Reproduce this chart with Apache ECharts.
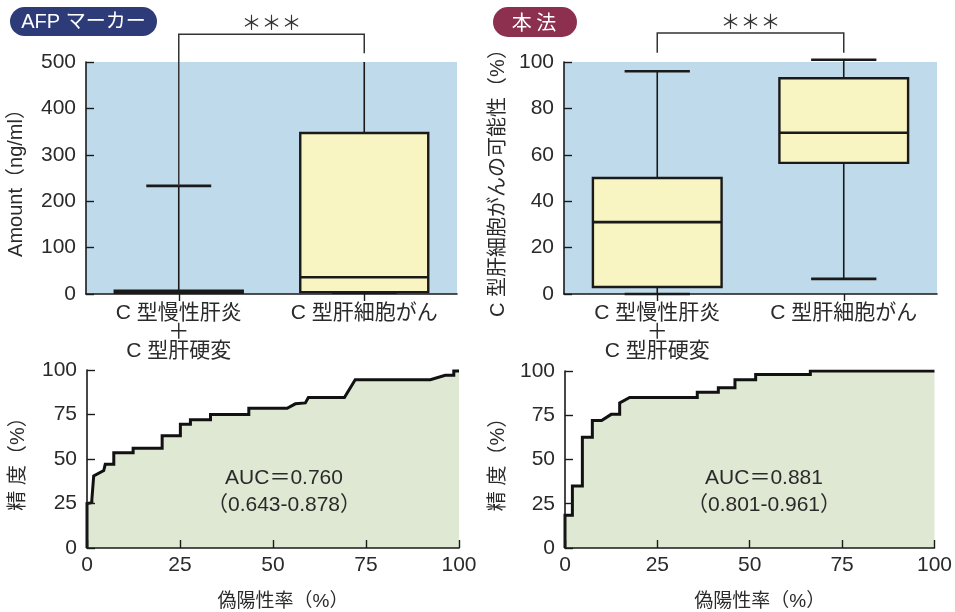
<!DOCTYPE html>
<html><head><meta charset="utf-8">
<script src="https://cdn.jsdelivr.net/npm/echarts@6/dist/echarts.min.js"></script>
<style>html,body{margin:0;padding:0;background:#fff}#c{width:955px;height:612px}</style>
</head><body><div id="c"></div>
<script>
const FONT = "'Liberation Sans','Noto Sans CJK JP',sans-serif";
const CJK = "'Noto Sans CJK JP','Liberation Sans',sans-serif";

// Box plot categories
const boxCategories = ['C 型慢性肝炎\n＋\nC 型肝硬変', 'C 型肝細胞がん'];
// [min, Q1, median, Q3, max]
const afpBox = [[0, 2, 4, 7, 233], [0, 4, 36, 347, 540]];
const methodBox = [[0, 3, 31, 50, 96], [6.5, 56.5, 69.5, 93, 101]];
// bracket: [left leg end, right leg end, bracket top] (data units)
const afpBracket = [233, 519, 560];
const methodBracket = [104, 104, 112.5];
const afpYTicks = {min: 0, max: 500, interval: 100};
const methodYTicks = {min: 0, max: 100, interval: 20};
const rocTicks = {min: 0, max: 100, interval: 25};

// ROC curves: [false positive rate %, sensitivity %]
const rocAfp = [[0,0],[0,25],[1.3,25.5],[1.3,27],[1.8,27],[1.8,40.5],[4.5,43.5],[4.9,43.5],[4.9,47],[7.2,47],[7.2,53.5],[12.4,53.5],[12.4,56],[20.2,56],[20.2,63],[25.1,63],[25.1,69.5],[27.8,69.5],[27.8,72],[33.2,72],[33.2,75],[43.5,75],[43.5,78.5],[53.8,78.5],[56,81],[58.7,81.5],[59.5,84.5],[69.2,84.5],[72.1,94.5],[92.3,94.5],[96.3,97],[98.6,97],[98.6,99.5],[100,99.5]];
const rocMethod = [[0,0],[0,18.5],[2,18.5],[2,35],[4.7,35],[4.7,62.5],[7.4,62.5],[7.4,72],[9.9,72],[12.5,75.5],[14.8,75.5],[14.8,82],[17.5,85],[35.8,85],[35.8,88],[41.5,88],[41.5,90.5],[46,90.5],[46,95],[51.6,95],[51.6,98],[66.4,98],[66.4,100],[100,100]];
const aucAfp = ['AUC＝0.760', '（0.643-0.878）'];
const aucMethod = ['AUC＝0.881', '（0.801-0.961）'];

const INK = '#1a1a1a';
const TXT = '#2a2a2a';

function boxRender(params, api) {
  const idx = api.value(0);
  const mn = api.value(1), q1 = api.value(2), md = api.value(3), q3 = api.value(4), mx = api.value(5);
  const band = api.size([1, 0])[0];
  const bw = band * 0.69, cw = band * 0.35;
  const cx = api.coord([idx, md])[0];
  const y = v => api.coord([idx, v])[1];
  const thin = {stroke: INK, lineWidth: 1.6};
  const thick = {stroke: INK, lineWidth: 2.6};
  return {type: 'group', children: [
    {type: 'line', shape: {x1: cx, y1: y(q3), x2: cx, y2: y(mx)}, style: thin},
    {type: 'line', shape: {x1: cx, y1: y(q1), x2: cx, y2: y(mn)}, style: thin},
    {type: 'line', shape: {x1: cx - cw / 2, y1: y(mx), x2: cx + cw / 2, y2: y(mx)}, style: thick},
    {type: 'line', shape: {x1: cx - cw / 2, y1: y(mn), x2: cx + cw / 2, y2: y(mn)}, style: thick},
    {type: 'rect', shape: {x: cx - bw / 2, y: y(q3), width: bw, height: y(q1) - y(q3)}, style: {fill: '#f9f5c3', stroke: INK, lineWidth: 2.4}},
    {type: 'line', shape: {x1: cx - bw / 2, y1: y(md), x2: cx + bw / 2, y2: y(md)}, style: thick}
  ]};
}
function bracketRender(params, api) {
  const l = api.value(0), r = api.value(1), t = api.value(2);
  const p0 = api.coord([0, l]), p1 = api.coord([1, r]);
  const top = api.coord([0, t])[1];
  const s = {stroke: '#333', lineWidth: 1.5, fill: null};
  return {type: 'group', children: [
    {type: 'polyline', shape: {points: [[p0[0], p0[1]], [p0[0], top], [p1[0], top], [p1[0], p1[1]]]}, style: s},
    {type: 'text', x: (p0[0] + p1[0]) / 2, y: top - 12, style: {text: '＊＊＊', fill: '#333', font: '20px ' + CJK, align: 'center', verticalAlign: 'middle'}}
  ]};
}

const grids = [
  {left: 86, top: 62, width: 371, height: 232, show: true, backgroundColor: '#bfdaea', borderWidth: 0},
  {left: 564, top: 62, width: 373, height: 232, show: true, backgroundColor: '#bfdaea', borderWidth: 0},
  {left: 87, top: 370, width: 372, height: 188},
  {left: 565, top: 371, width: 374, height: 187}
];
const axisLine = {show: true, onZero: false, lineStyle: {color: INK, width: 1.6}};
function catAxis(gi) {
  return {type: 'category', gridIndex: gi, data: boxCategories, axisLine,
    axisTick: {show: true, alignWithLabel: true, length: 7, lineStyle: {color: INK, width: 1.4}},
    axisLabel: {color: TXT, fontSize: 21, fontFamily: FONT, lineHeight: 19, margin: 10, interval: 0},
    splitLine: {show: false}};
}
function valAxis(gi, t, extra) {
  return Object.assign({type: 'value', gridIndex: gi, min: t.min, max: t.max, interval: t.interval, axisLine,
    axisTick: {show: true, inside: true, length: 8, lineStyle: {color: INK, width: 1.4}},
    axisLabel: {color: TXT, fontSize: 21, fontFamily: FONT, margin: 10},
    splitLine: {show: false}, z: 10,
    nameLocation: 'middle', nameTextStyle: {color: TXT, fontSize: 20, fontFamily: FONT}}, extra || {});
}
const xNameStyle = {color: TXT, fontSize: 19, fontFamily: FONT, padding: [0, 0, 0, 20]};

const option = {
  animation: false,
  backgroundColor: '#ffffff',
  grid: grids,
  xAxis: [
    catAxis(0), catAxis(1),
    valAxis(2, rocTicks, {name: '偽陽性率（%）', nameGap: 44, nameTextStyle: xNameStyle, axisLabel: {color: TXT, fontSize: 21, fontFamily: FONT, margin: 7}}),
    valAxis(3, rocTicks, {name: '偽陽性率（%）', nameGap: 44, nameTextStyle: xNameStyle, axisLabel: {color: TXT, fontSize: 21, fontFamily: FONT, margin: 7}})
  ],
  yAxis: [
    valAxis(0, afpYTicks, {name: 'Amount（ng/ml）', nameGap: 60, z: 0}),
    valAxis(1, methodYTicks, {name: 'C 型肝細胞がんの可能性（%）', nameGap: 56, z: 0}),
    valAxis(2, rocTicks, {name: '精 度（%）', nameGap: 59}),
    valAxis(3, rocTicks, {name: '精 度（%）', nameGap: 57})
  ],
  series: [
    {type: 'custom', xAxisIndex: 0, yAxisIndex: 0, clip: true, renderItem: boxRender,
      data: afpBox.map((d, i) => [i].concat(d)), encode: {x: 0, y: [1, 2, 3, 4, 5]}},
    {type: 'custom', xAxisIndex: 0, yAxisIndex: 0, clip: false, renderItem: bracketRender, z: 3,
      data: [afpBracket], encode: {y: [0, 1, 2]}},
    {type: 'custom', xAxisIndex: 1, yAxisIndex: 1, clip: false, renderItem: boxRender,
      data: methodBox.map((d, i) => [i].concat(d)), encode: {x: 0, y: [1, 2, 3, 4, 5]}},
    {type: 'custom', xAxisIndex: 1, yAxisIndex: 1, clip: false, renderItem: bracketRender, z: 3,
      data: [methodBracket], encode: {y: [0, 1, 2]}},
    {type: 'line', xAxisIndex: 2, yAxisIndex: 2, data: rocAfp, symbol: 'none', z: 3,
      lineStyle: {color: '#111', width: 3, join: 'miter'}, areaStyle: {color: '#dfe8d2', opacity: 1}},
    {type: 'line', xAxisIndex: 3, yAxisIndex: 3, data: rocMethod, symbol: 'none', z: 3,
      lineStyle: {color: '#111', width: 3, join: 'miter'}, areaStyle: {color: '#dfe8d2', opacity: 1}}
  ],
  graphic: [
    {type: 'group', children: [
      {type: 'rect', shape: {x: 10, y: 7, width: 147, height: 29, r: 14.5}, style: {fill: '#2d3c78'}},
      {type: 'text', x: 83.5, y: 22, style: {text: 'AFP マーカー', fill: '#fff', font: '20px ' + FONT, align: 'center', verticalAlign: 'middle'}}
    ]},
    {type: 'group', children: [
      {type: 'rect', shape: {x: 493, y: 7, width: 84, height: 30, r: 15}, style: {fill: '#8d2f4e'}},
      {type: 'text', x: 534, y: 22, style: {text: '本 法', fill: '#fff', font: '20px ' + CJK, align: 'center', verticalAlign: 'middle'}}
    ]},
    {type: 'text', x: 284, y: 478, z: 10, style: {text: aucAfp[0], fill: TXT, font: '21px ' + FONT, align: 'center', verticalAlign: 'middle'}},
    {type: 'text', x: 284, y: 505, z: 10, style: {text: aucAfp[1], fill: TXT, font: '21px ' + FONT, align: 'center', verticalAlign: 'middle'}},
    {type: 'text', x: 764, y: 478, z: 10, style: {text: aucMethod[0], fill: TXT, font: '21px ' + FONT, align: 'center', verticalAlign: 'middle'}},
    {type: 'text', x: 764, y: 505, z: 10, style: {text: aucMethod[1], fill: TXT, font: '21px ' + FONT, align: 'center', verticalAlign: 'middle'}}
  ]
};
const chart = echarts.init(document.getElementById('c'), null, {renderer: 'canvas'});
chart.setOption(option);
</script>
</body></html>
